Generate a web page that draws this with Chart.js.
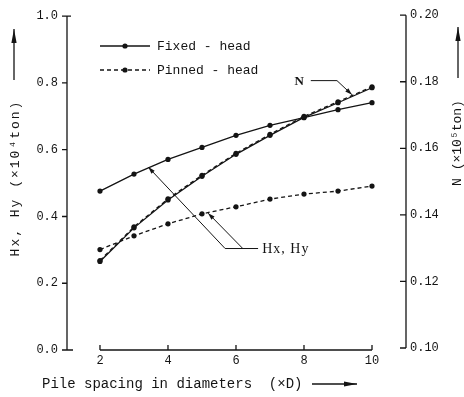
<!DOCTYPE html>
<html>
<head>
<meta charset="utf-8">
<script src="https://cdn.jsdelivr.net/npm/chart.js@4/dist/chart.umd.min.js"></script>
<style>
html,body{margin:0;padding:0;background:#fff}
canvas{display:block}
</style>
</head>
<body>
<canvas id="chart" width="464" height="397"></canvas>
<script>
// pile spacing (x D)
const spacing = [2,3,4,5,6,7,8,9,10]
// Hx, Hy (x10^4 ton), left axis
const hFixed  = [0.476,0.527,0.571,0.607,0.643,0.673,0.696,0.720,0.741]
const hPinned = [0.301,0.342,0.378,0.408,0.429,0.452,0.467,0.476,0.491]
// N (x10^5 ton), right axis
const nFixed  = [0.1260,0.1361,0.1445,0.1516,0.1582,0.1639,0.1693,0.1737,0.1782]
const nPinned = [0.1263,0.1364,0.1448,0.1519,0.1585,0.1642,0.1696,0.1740,0.1785]

const xTicks = [2,4,6,8,10]
const hTicks = [0,0.2,0.4,0.6,0.8,1.0]
const nTicks = [0.10,0.12,0.14,0.16,0.18,0.20]

const INK = "#141414"
const MONO = "'Liberation Mono', 'DejaVu Sans Mono', monospace"
const SERIF = "'Liberation Serif', 'DejaVu Serif', serif"

const pts = ys => spacing.map((x,i)=>({x:x, y:ys[i]}))

function ds(label, ys, axis, dash){
  return {
    label:label,
    data:pts(ys),
    yAxisID:axis,
    borderColor:INK,
    backgroundColor:INK,
    borderWidth:1.3,
    borderDash:dash,
    pointRadius:2.6,
    pointBorderWidth:0,
    pointBackgroundColor:INK,
    tension:0,
    fill:false
  }
}

function arrowHead(ctx, x0, y0, x1, y1, len, half){
  const a = Math.atan2(y1-y0, x1-x0)
  ctx.beginPath()
  ctx.moveTo(x1, y1)
  ctx.lineTo(x1 - len*Math.cos(a) + half*Math.sin(a), y1 - len*Math.sin(a) - half*Math.cos(a))
  ctx.lineTo(x1 - len*Math.cos(a) - half*Math.sin(a), y1 - len*Math.sin(a) + half*Math.cos(a))
  ctx.closePath()
  ctx.fill()
}

function arrowLine(ctx, x0, y0, x1, y1, len, half){
  ctx.beginPath()
  ctx.moveTo(x0, y0)
  ctx.lineTo(x1, y1)
  ctx.stroke()
  arrowHead(ctx, x0, y0, x1, y1, len, half)
}

const decor = {
  id:"decor",
  afterDraw(chart){
    const ctx = chart.ctx
    const sx = chart.scales.x, sy = chart.scales.y, sn = chart.scales.y1
    const L = chart.chartArea.left, R = chart.chartArea.right
    const px = v => sx.getPixelForValue(v)
    const py = v => sy.getPixelForValue(v)
    const pn = v => sn.getPixelForValue(v)

    ctx.save()
    ctx.strokeStyle = INK
    ctx.fillStyle = INK
    ctx.lineWidth = 1.3
    ctx.setLineDash([])

    // left axis
    ctx.beginPath()
    ctx.moveTo(L, py(0)); ctx.lineTo(L, py(1))
    hTicks.forEach(v=>{
      ctx.moveTo(L-5, py(v)); ctx.lineTo(L, py(v))
    })
    ctx.moveTo(L, py(0)); ctx.lineTo(L+6, py(0))
    ctx.moveTo(L, py(1)); ctx.lineTo(L+4, py(1))
    ctx.stroke()

    // right axis
    ctx.beginPath()
    ctx.moveTo(R, pn(nTicks[0])); ctx.lineTo(R, pn(nTicks[nTicks.length-1]))
    nTicks.forEach(v=>{
      ctx.moveTo(R-6, pn(v)); ctx.lineTo(R, pn(v))
    })
    ctx.stroke()

    // bottom axis, only from 2 to 10
    const yb = py(0)
    ctx.beginPath()
    ctx.moveTo(px(xTicks[0]), yb); ctx.lineTo(px(xTicks[xTicks.length-1]), yb)
    xTicks.forEach(v=>{
      ctx.moveTo(px(v), yb); ctx.lineTo(px(v), yb-5)
    })
    ctx.stroke()

    // legend
    const dsets = chart.data.datasets
    ;[0,1].forEach(i=>{
      const d = dsets[i]
      const ly = 46 + i*24
      ctx.setLineDash(d.borderDash || [])
      ctx.lineWidth = 1.3
      ctx.beginPath()
      ctx.moveTo(100, ly); ctx.lineTo(150, ly)
      ctx.stroke()
      ctx.setLineDash([])
      ctx.beginPath()
      ctx.arc(125, ly, 2.6, 0, Math.PI*2)
      ctx.fill()
      ctx.font = "13px " + MONO
      ctx.textBaseline = "middle"
      ctx.textAlign = "left"
      ctx.fillText(d.label, 157, ly+1)
    })

    // N callout
    ctx.lineWidth = 1
    ctx.font = "bold 13px " + SERIF
    ctx.textBaseline = "middle"
    ctx.textAlign = "left"
    ctx.fillText("N", px(7.72), py(0.805))
    ctx.beginPath()
    ctx.moveTo(px(8.2), py(0.807)); ctx.lineTo(px(8.97), py(0.807))
    ctx.stroke()
    arrowLine(ctx, px(8.97), py(0.807), px(9.41), py(0.765), 7, 2.2)

    // Hx, Hy callout
    const hy = py(0.304)
    ctx.beginPath()
    ctx.moveTo(px(5.68), hy); ctx.lineTo(px(6.65), hy)
    ctx.stroke()
    arrowLine(ctx, px(5.68), hy, px(3.42), py(0.548), 7, 2.2)
    arrowLine(ctx, px(6.20), hy, px(5.18), py(0.410), 7, 2.2)
    ctx.font = "14px " + SERIF
    ctx.letterSpacing = "1px"
    ctx.fillText("Hx, Hy", px(6.77), hy+1)
    ctx.letterSpacing = "0px"

    // x title
    ctx.font = "14px " + MONO
    ctx.textAlign = "left"
    ctx.textBaseline = "middle"
    ctx.fillText("Pile spacing in diameters  (\u00d7D)", 42, 384)
    ctx.lineWidth = 1.3
    arrowLine(ctx, 312, 384, 357, 384, 13, 2.6)

    // left title
    ctx.save()
    ctx.translate(16, 178)
    ctx.rotate(-Math.PI/2)
    ctx.font = "13px " + MONO
    ctx.letterSpacing = "2px"
    ctx.textAlign = "center"
    ctx.fillText("Hx, Hy (\u00d710\u2074ton)", 0, 0)
    ctx.restore()
    arrowLine(ctx, 14, 80, 14, 29, 14, 2.6)

    // right title
    ctx.save()
    ctx.translate(458, 143)
    ctx.rotate(-Math.PI/2)
    ctx.font = "13px " + MONO
    ctx.textAlign = "center"
    ctx.fillText("N (\u00d710\u2075ton)", 0, 0)
    ctx.restore()
    arrowLine(ctx, 458, 78, 458, 27, 14, 2.6)

    ctx.restore()
  }
}

const tickFont = {family:MONO, size:12}

new Chart(document.getElementById("chart"), {
  type:"line",
  data:{
    datasets:[
      ds("Fixed - head", hFixed, "y", []),
      ds("Pinned - head", hPinned, "y", [4,3]),
      ds("N fixed", nFixed, "y1", []),
      ds("N pinned", nPinned, "y1", [4,3])
    ]
  },
  options:{
    responsive:false,
    animation:false,
    devicePixelRatio:1,
    layout:{padding:{top:14, left:0, right:0, bottom:0}},
    plugins:{legend:{display:false}, tooltip:{enabled:false}},
    scales:{
      x:{
        type:"linear",
        min:1.03, max:11,
        grid:{display:false, drawTicks:false},
        border:{display:false},
        ticks:{font:tickFont, color:INK, padding:4, maxRotation:0},
        afterBuildTicks:s=>{ s.ticks = xTicks.map(v=>({value:v})) },
        afterFit:s=>{ s.height = 47 }
      },
      y:{
        position:"left",
        min:0, max:1,
        grid:{display:false, drawTicks:false},
        border:{display:false},
        ticks:{font:tickFont, color:INK, padding:9, callback:v=>v.toFixed(1)},
        afterBuildTicks:s=>{ s.ticks = hTicks.map(v=>({value:v})) },
        afterFit:s=>{ s.width = 67 }
      },
      y1:{
        position:"right",
        min:0.0994, max:0.1997,
        grid:{display:false, drawTicks:false},
        border:{display:false},
        ticks:{font:tickFont, color:INK, padding:4, callback:v=>v.toFixed(2)},
        afterBuildTicks:s=>{ s.ticks = nTicks.map(v=>({value:v})) },
        afterFit:s=>{ s.width = 58 }
      }
    }
  },
  plugins:[decor]
})
</script>
</body>
</html>
